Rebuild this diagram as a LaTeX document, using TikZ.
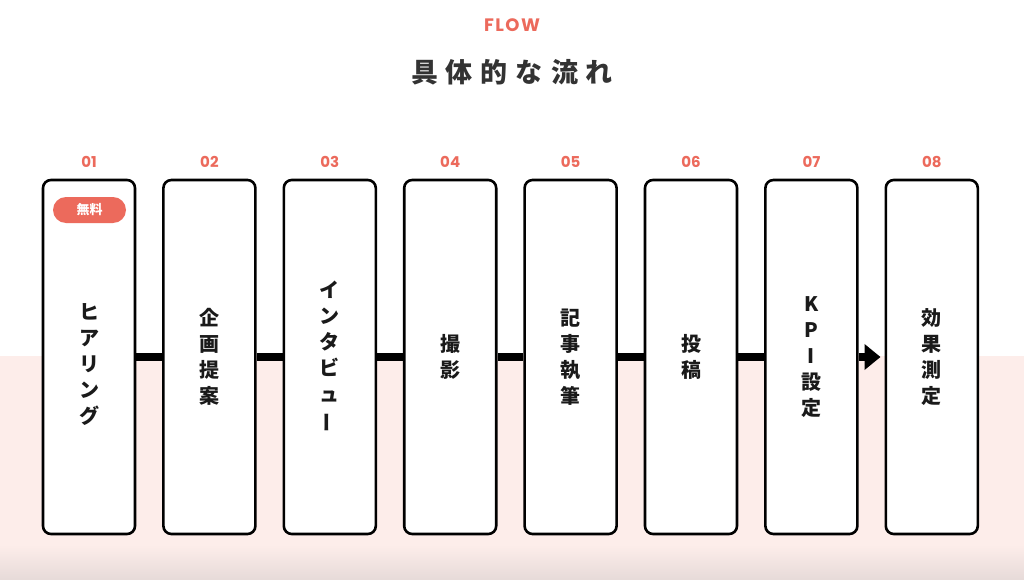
\documentclass[tikz,border=0pt]{standalone}
\usepackage{fontspec}
\usepackage{graphicx}
\usetikzlibrary{arrows.meta}
\newfontfamily\jp{Noto Sans CJK JP}
\newfontfamily\pop{Poppins}
\definecolor{coral}{HTML}{EC6A5C}
\definecolor{pinkbg}{HTML}{FDEDEA}
\definecolor{shadowbg}{HTML}{E6DAD8}
\definecolor{titlegray}{HTML}{333333}
\definecolor{ink}{HTML}{1A1A1A}
\newcommand{\vbar}{\rotatebox[origin=c]{90}{ー}}
\begin{document}
\begin{tikzpicture}[x=1pt,y=-1pt,
  stepbox/.style={draw=black, line width=2.6pt, rounded corners=8pt, fill=white,
    minimum width=92pt, minimum height=354pt, inner sep=0pt, align=center,
    text=ink, font=\jp\bfseries\fontsize{20}{26}\selectfont},
  num/.style={font=\pop\bfseries\fontsize{15}{15}\selectfont, text=coral},
  link/.style={line width=8.5pt, draw=black},
  badge/.style={fill=coral, rounded corners=13pt, minimum width=73pt, minimum height=26pt,
    inner sep=0pt, text=white, font=\jp\bfseries\fontsize{13}{13}\selectfont}]
\useasboundingbox (0,0) rectangle (1024,580);
\fill[white] (0,0) rectangle (1024,580);
\fill[pinkbg] (0,356) rectangle (1024,546);
\shade[top color=pinkbg, bottom color=shadowbg] (0,545) rectangle (1024,580);

\node[font=\pop\bfseries\fontsize{18}{18}\selectfont, text=coral] (flow) at (512,25) {F\kern1.5pt L\kern1.5pt O\kern1.5pt W};
\node[font=\jp\bfseries\fontsize{27}{27}\selectfont, text=titlegray] (title) at (512,72)
  {具\kern8pt 体\kern8pt 的\kern8pt な\kern8pt 流\kern8pt れ};

\node[stepbox] (b1) at (89,357) {\\[4pt]ヒ\\ア\\リ\\ン\\グ};
\node[stepbox] (b2) at (209.4,357) {企\\画\\提\\案};
\node[stepbox] (b3) at (329.8,357) {イ\\ン\\タ\\ビ\\ュ\\\vbar};
\node[stepbox] (b4) at (450.2,357) {撮\\影};
\node[stepbox] (b5) at (570.6,357) {記\\事\\執\\筆};
\node[stepbox] (b6) at (691,357) {投\\稿};
\node[stepbox] (b7) at (811.4,357) {K\\P\\I\\設\\定};
\node[stepbox] (b8) at (931.8,357) {効\\果\\測\\定};

\node[badge] (free) at (89.5,210) {無料};

\foreach \i/\n in {1/01,2/02,3/03,4/04,5/05,6/06,7/07,8/08}
  \node[num] (n\i) at ([yshift=17pt]b\i.north) {\n};

\draw[link] (b1.east) -- (b2.west);
\draw[link] (b2.east) -- (b3.west);
\draw[link] (b3.east) -- (b4.west);
\draw[link] (b4.east) -- (b5.west);
\draw[link] (b5.east) -- (b6.west);
\draw[link] (b6.east) -- (b7.west);
\draw[link, -{Triangle[length=16pt,width=25pt]}, shorten >=4pt] (b7.east) -- (b8.west);
\end{tikzpicture}
\end{document}
